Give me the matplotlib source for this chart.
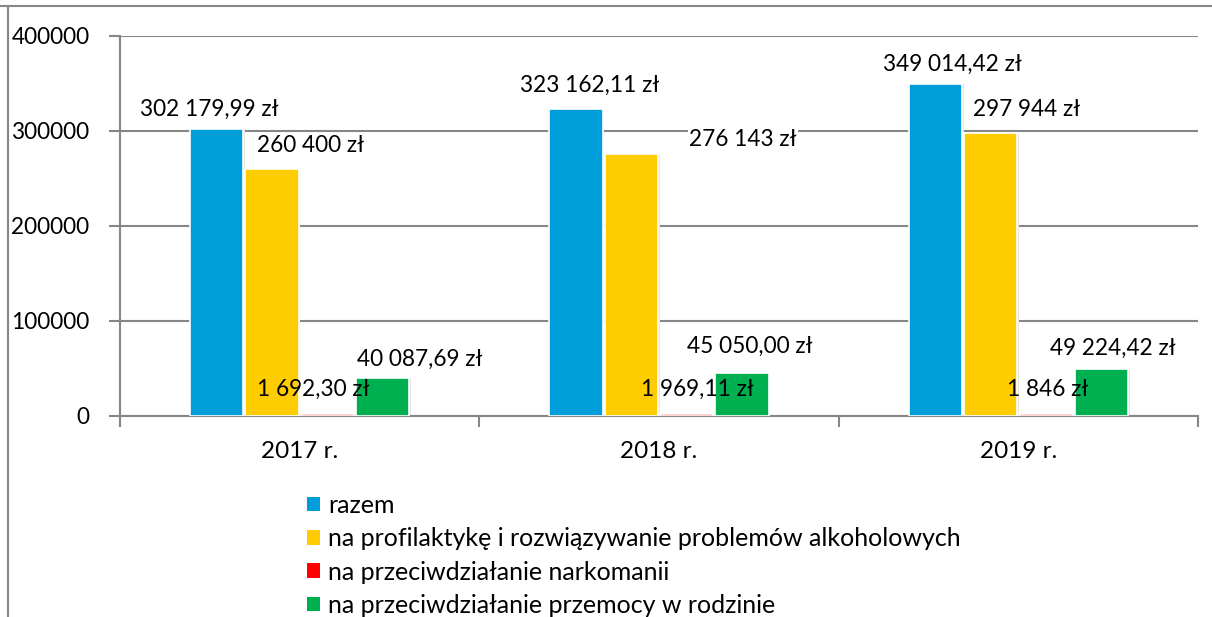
#!/usr/bin/env python

import matplotlib
matplotlib.use('Agg')
import matplotlib.pyplot as plt
from matplotlib.patches import Patch
import numpy as np

years = ['2017 r.', '2018 r.', '2019 r.']
series_names = ['razem',
                'na profilaktykę i rozwiązywanie problemów alkoholowych',
                'na przeciwdziałanie narkomanii',
                'na przeciwdziałanie przemocy w rodzinie']
razem = [302179.99, 323162.11, 349014.42]
alkohol = [260400, 276143, 297944]
narkomania = [1692.30, 1969.11, 1846]
przemoc = [40087.69, 45050.00, 49224.42]
razem_txt = ['302 179,99 zł', '323 162,11 zł', '349 014,42 zł']
alkohol_txt = ['260 400 zł', '276 143 zł', '297 944 zł']
narkomania_txt = ['1 692,30 zł', '1 969,11 zł', '1 846 zł']
przemoc_txt = ['40 087,69 zł', '45 050,00 zł', '49 224,42 zł']

colors = ['#009DDB', '#FFCC00', '#FF0000', '#00B050']

# label placement (data coords), Excel moved them by hand
label_pos = [
    [(-0.252, 323000), (0.808, 348500), (1.816, 370600)],
    [(0.031, 285000), (1.234, 290600), (2.024, 322200)],
    [(0.037, 28400), (1.106, 28400), (2.083, 28400)],
    [(0.335, 60000), (1.253, 73700), (2.264, 71600)],
]


def main():
    plt.rcParams['font.family'] = ['Lato', 'DejaVu Sans']
    fs_num = 16.3
    fs_cat = 17.5
    fs_leg = 18
    fig = plt.figure(figsize=(12.12, 6.17), dpi=100)
    ax = fig.add_axes([0.099, 0.3258, 0.8894, 0.6159])

    ind = np.arange(len(years))
    width = 0.148
    step = 0.154
    values = [razem, alkohol, narkomania, przemoc]
    texts = [razem_txt, alkohol_txt, narkomania_txt, przemoc_txt]
    for i, vals in enumerate(values):
        xs = ind + (i - 1.5) * step
        # soft shadow
        ax.bar(xs + 0.005, vals, width, color='#e4e4e4', zorder=2)
        ax.bar(xs, vals, width, color=colors[i], edgecolor='white',
               linewidth=1.2, zorder=3)
        for j, t in enumerate(texts[i]):
            bg = None if i == 2 else dict(facecolor='white', edgecolor='none', pad=1)
            ax.text(label_pos[i][j][0], label_pos[i][j][1], t, fontsize=fs_num,
                    ha='center', va='center', zorder=5, bbox=bg)

    ax.set_xlim(-0.5, 2.5)
    ax.set_ylim(0, 400000)
    ax.set_yticks([0, 100000, 200000, 300000, 400000])
    ax.set_yticklabels(['0', '100000', '200000', '300000', '400000'])
    ax.yaxis.grid(True, color='#868686', linewidth=1.5, zorder=0)
    ax.set_axisbelow(True)
    ax.set_xticks(ind)
    ax.set_xticklabels(years)
    ax.set_xticks([-0.5, 0.5, 1.5, 2.5], minor=True)
    ax.tick_params(axis='x', which='major', length=0, pad=18, labelsize=fs_cat)
    ax.tick_params(axis='x', which='minor', length=8, width=1.5, color='#868686')
    ax.tick_params(axis='y', length=8, width=1.5, color='#868686', pad=14,
                   labelsize=fs_num)
    for s in ['top', 'right']:
        ax.spines[s].set_visible(False)
    ax.spines['left'].set_color('#868686')
    ax.spines['left'].set_linewidth(1.5)
    ax.spines['bottom'].set_color('#868686')
    ax.spines['bottom'].set_linewidth(1.5)

    # chart frame
    fig.add_artist(plt.Line2D([0, 1], [0.9903, 0.9903], color='#868686',
                              linewidth=1.5, transform=fig.transFigure))
    fig.add_artist(plt.Line2D([0.0062, 0.0062], [0, 0.9903], color='#868686',
                              linewidth=1.5, transform=fig.transFigure))

    handles = [Patch(facecolor=c, edgecolor='none') for c in colors]
    fig.legend(handles, series_names, loc='upper left',
               bbox_to_anchor=(0.2533, 0.1993), frameon=False, fontsize=fs_leg,
               handlelength=0.52, handleheight=0.52, handletextpad=0.32,
               labelspacing=0.41, borderpad=0, borderaxespad=0)

    fig.savefig('out.png', dpi=100)
    plt.close()


if __name__ == '__main__':
    main()
